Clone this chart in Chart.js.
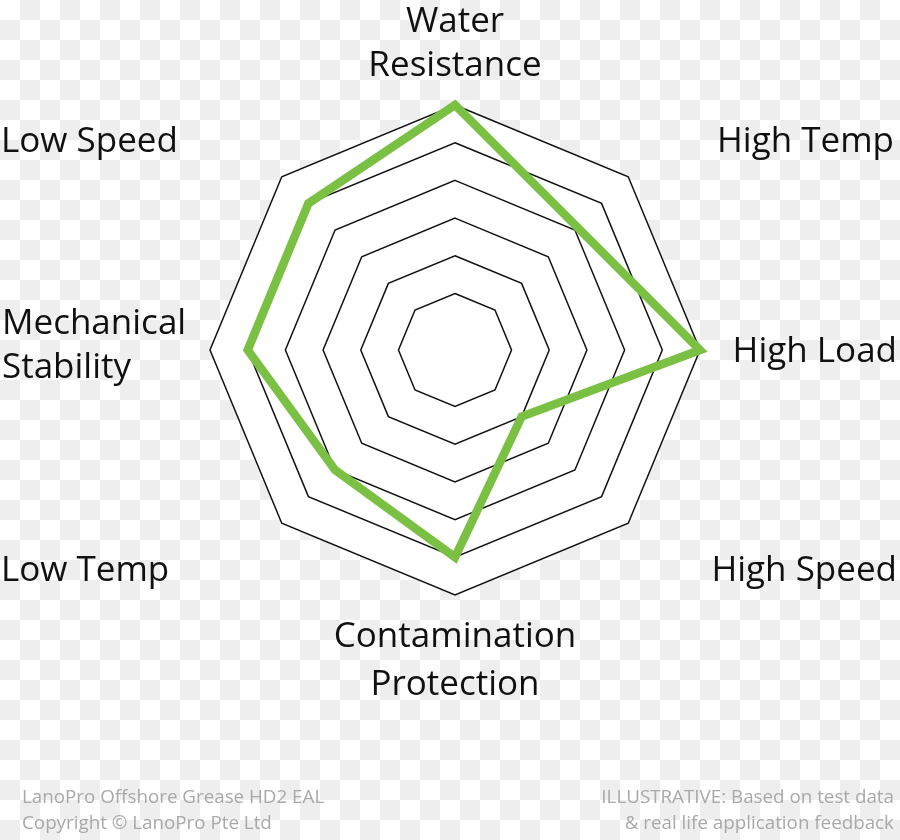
<!DOCTYPE html>
<html>
<head>
<meta charset="utf-8">
<title>LanoPro Offshore Grease HD2 EAL</title>
<script src="https://cdn.jsdelivr.net/npm/chart.js@4.4.1/dist/chart.umd.min.js"></script>
<style>
  html, body { margin: 0; padding: 0; }
  body {
    width: 900px;
    height: 840px;
    position: relative;
    overflow: hidden;
    background-color: #fff;
    background-image: repeating-conic-gradient(#eeeeee 0 25%, #ffffff 0 50%);
    background-size: 40px 40px;
    font-family: "Open Sans", sans-serif;
  }
  #radar { position: absolute; left: 0; top: 0; }
  .foot { position: absolute; color: #a9a9a9; font-size: 18.8px; line-height: 26px; white-space: nowrap; }
</style>
</head>
<body>
<canvas id="radar" width="900" height="840"></canvas>
<div class="foot" style="left:22px; top:783px;">LanoPro Offshore Grease HD2 EAL<br>Copyright © LanoPro Pte Ltd</div>
<div class="foot" style="right:6px; top:783px; text-align:right;">ILLUSTRATIVE: Based on test data<br>&amp; real life application feedback</div>

<script>
// Data
const categories = [
    ['Water', 'Resistance'],
    'High Temp',
    'High Load',
    'High Speed',
    ['Contamination', 'Protection'],
    'Low Temp',
    ['Mechanical', 'Stability'],
    'Low Speed'
];
const ratings = [6, 4.1, 6, 2, 5, 4, 5, 5];
const ringTicks = [1, 2, 3, 4, 5, 6];
const scaleMin = -0.5;
const scaleMax = 6;

// where each axis label sits (baseline of first line)
const labelSpots = [
    { x: 455, y: 32,  align: 'center', lh: 44 },
    { x: 894, y: 152, align: 'right' },
    { x: 897, y: 362, align: 'right' },
    { x: 897, y: 581, align: 'right' },
    { x: 455, y: 647, align: 'center', lh: 48 },
    { x: 1,   y: 581, align: 'left' },
    { x: 2,   y: 334, align: 'left', lh: 44 },
    { x: 1,   y: 152, align: 'left' }
];

// Axis labels drawn by hand, the reference puts them off the spokes
const axisLabels = {
    id: 'axisLabels',
    afterDraw(chart) {
        const ctx = chart.ctx;
        ctx.save();
        ctx.font = '35px "Open Sans"';
        ctx.fillStyle = '#111';
        ctx.textBaseline = 'alphabetic';
        chart.data.labels.forEach((lbl, i) => {
            const s = labelSpots[i];
            const lines = Array.isArray(lbl) ? lbl : [lbl];
            ctx.textAlign = s.align;
            lines.forEach((t, k) => ctx.fillText(t, s.x, s.y + k * (s.lh || 44)));
        });
        ctx.restore();
    }
};

new Chart(document.getElementById('radar'), {
    type: 'radar',
    data: {
        labels: categories,
        datasets: [{
            label: 'LanoPro Offshore Grease HD2 EAL',
            data: ratings,
            borderColor: '#7ac143',
            borderWidth: 8.5,
            borderJoinStyle: 'miter',
            fill: false,
            pointRadius: 0,
            pointHoverRadius: 0
        }]
    },
    options: {
        responsive: false,
        animation: false,
        devicePixelRatio: 1,
        layout: { padding: { left: 210, right: 200, top: 105, bottom: 245 } },
        plugins: {
            legend: { display: false },
            tooltip: { enabled: false }
        },
        scales: {
            r: {
                min: scaleMin,
                max: scaleMax,
                backgroundColor: '#ffffff',
                afterBuildTicks: scale => { scale.ticks = ringTicks.map(v => ({ value: v })); },
                grid: { color: '#111111', lineWidth: 1.5 },
                angleLines: { display: false },
                ticks: { display: false },
                pointLabels: { display: false }
            }
        }
    },
    plugins: [axisLabels]
});
</script>
</body>
</html>
